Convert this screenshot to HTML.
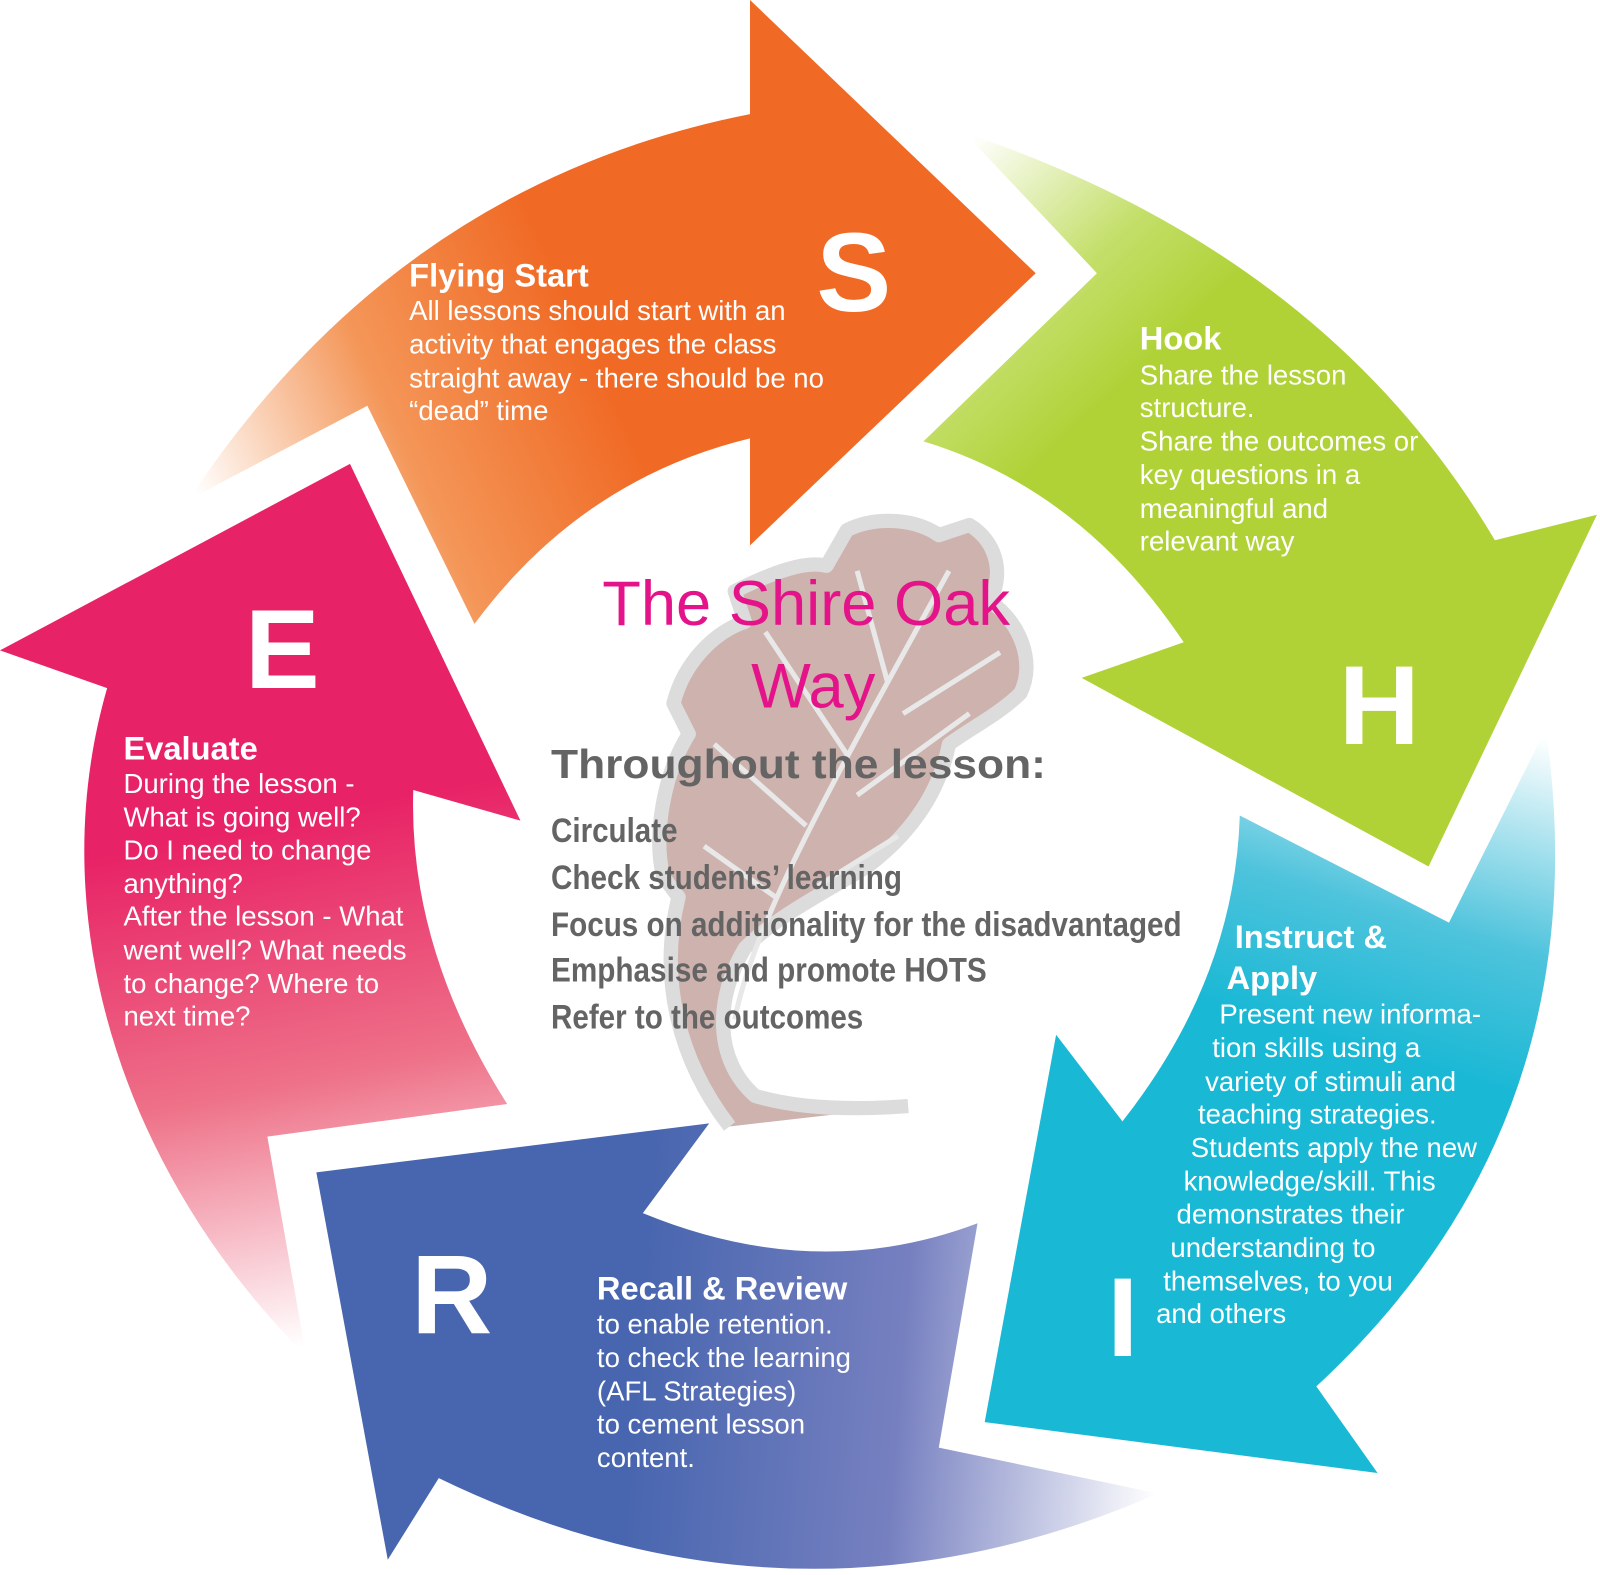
<!DOCTYPE html>
<html><head><meta charset="utf-8"><style>html,body{margin:0;padding:0;background:#fff}svg{display:block}</style></head>
<body>
<svg width="1600" height="1575" viewBox="0 0 1568 1545" preserveAspectRatio="none" xmlns="http://www.w3.org/2000/svg" font-family="Liberation Sans, Arial, sans-serif">
<defs>
<linearGradient id="go" gradientUnits="userSpaceOnUse" x1="185" y1="470" x2="560" y2="300"><stop offset="0" stop-color="#fff"/><stop offset="0.5" stop-color="#f49658"/><stop offset="1" stop-color="#f06a25"/></linearGradient>
<linearGradient id="gg" gradientUnits="userSpaceOnUse" x1="960" y1="130" x2="1150" y2="330"><stop offset="0" stop-color="#fff"/><stop offset="0.6" stop-color="#c4df6a"/><stop offset="1" stop-color="#b0d237"/></linearGradient>
<linearGradient id="gc" gradientUnits="userSpaceOnUse" x1="1500" y1="720" x2="1400" y2="1050"><stop offset="0" stop-color="#fff"/><stop offset="0.6" stop-color="#4ec3dc"/><stop offset="1" stop-color="#19b8d5"/></linearGradient>
<linearGradient id="gb" gradientUnits="userSpaceOnUse" x1="1135" y1="1440" x2="620" y2="1400"><stop offset="0" stop-color="#fff"/><stop offset="0.5" stop-color="#7680c0"/><stop offset="1" stop-color="#4866af"/></linearGradient>
<linearGradient id="gp" gradientUnits="userSpaceOnUse" x1="300" y1="1320" x2="200" y2="820"><stop offset="0" stop-color="#fff"/><stop offset="0.5" stop-color="#ee7188"/><stop offset="1" stop-color="#e82266"/></linearGradient>
</defs>

<g>
<path d="M715,1105 C665,1040 645,960 665,880 L650,860 C640,820 650,760 675,720 L660,690 C670,650 700,620 730,610 L720,580 C760,560 790,550 810,555 L830,520 C860,505 900,510 920,525 L950,515 C975,530 985,560 970,590 C1000,610 1015,650 1000,680 C980,700 950,715 930,730 C920,780 890,820 850,850 C800,880 760,900 730,930 C700,980 700,1040 740,1075 C790,1090 850,1088 890,1085" fill="#cdb2ae" stroke="#dcdcdc" stroke-width="14" stroke-linejoin="round"/>
<g stroke="#e8e8e8" stroke-width="5" fill="none">
<path d="M720,1000 C740,900 820,760 930,560"/>
<path d="M760,880 L690,830"/><path d="M790,810 L700,730"/><path d="M830,740 L750,620"/>
<path d="M870,670 L840,560"/><path d="M800,870 L880,820"/><path d="M840,780 L950,700"/><path d="M885,700 L980,640"/>
</g>
</g>

<path d="M185,490 Q390,180 735,112 L735,0 L1015,268 L735,535 L735,430 Q570,470 465,612 L360,398 Z" fill="url(#go)"/>
<path d="M945,130 Q1300,250 1465,530 L1565,505 L1400,850 L1060,665 L1160,630 Q1060,480 905,433 L1075,268 Z" fill="url(#gg)"/>
<path d="M1515,715 Q1570,1100 1290,1360 L1350,1445 L965,1395 L1035,1015 L1100,1100 Q1210,960 1215,800 L1420,905 Z" fill="url(#gc)"/>
<path d="M1135,1465 Q780,1620 430,1450 L380,1530 L310,1150 L695,1102 L630,1190 Q800,1260 958,1200 L920,1420 Z" fill="url(#gb)"/>
<path d="M300,1330 C120,1150 40,900 105,675 L0,638 L343,455 L510,805 L405,775 Q400,930 497,1083 L262,1115 Z" fill="url(#gp)"/>

<g fill="#fff" font-weight="bold">
<text x="800" y="305" font-size="110">S</text>
<text x="1312" y="730" font-size="110">H</text>
<text x="1085" y="1330" font-size="110">I</text>
<text x="403" y="1308" font-size="110">R</text>
<text x="240" y="675" font-size="110">E</text>
</g>

<g fill="#fff" font-size="27">
<text x="401" y="281" font-weight="bold" font-size="32">Flying Start</text>
<text x="401" y="314">All lessons should start with an</text>
<text x="401" y="347">activity that engages the class</text>
<text x="401" y="380">straight away - there should be no</text>
<text x="401" y="412">“dead” time</text>

<text x="1117" y="343" font-weight="bold" font-size="32">Hook</text>
<text x="1117" y="377">Share the lesson</text>
<text x="1117" y="409">structure.</text>
<text x="1117" y="442">Share the outcomes or</text>
<text x="1117" y="475">key questions in a</text>
<text x="1117" y="508">meaningful and</text>
<text x="1117" y="540">relevant way</text>

<text x="1210" y="930" font-weight="bold" font-size="32">Instruct &amp;</text>
<text x="1202" y="970" font-weight="bold" font-size="32">Apply</text>
<text x="1195" y="1004">Present new informa-</text>
<text x="1188" y="1037">tion skills using a</text>
<text x="1181" y="1070">variety of stimuli and</text>
<text x="1174" y="1102">teaching strategies.</text>
<text x="1167" y="1135">Students apply the new</text>
<text x="1160" y="1168">knowledge/skill. This</text>
<text x="1153" y="1200">demonstrates their</text>
<text x="1147" y="1233">understanding to</text>
<text x="1140" y="1266">themselves, to you</text>
<text x="1133" y="1298">and others</text>

<text x="585" y="1275" font-weight="bold" font-size="32">Recall &amp; Review</text>
<text x="585" y="1308">to enable retention.</text>
<text x="585" y="1341">to check the learning</text>
<text x="585" y="1374">(AFL Strategies)</text>
<text x="585" y="1406">to cement lesson</text>
<text x="585" y="1439">content.</text>

<text x="121" y="745" font-weight="bold" font-size="32">Evaluate</text>
<text x="121" y="778">During the lesson -</text>
<text x="121" y="811">What is going well?</text>
<text x="121" y="843">Do I need to change</text>
<text x="121" y="876">anything?</text>
<text x="121" y="908">After the lesson - What</text>
<text x="121" y="941">went well? What needs</text>
<text x="121" y="974">to change? Where to</text>
<text x="121" y="1006">next time?</text>
</g>

<g fill="#e4138a" font-size="62" text-anchor="middle">
<text x="790" y="613">The Shire Oak</text>
<text x="797" y="694">Way</text>
</g>
<text x="540" y="763" fill="#646464" font-weight="bold" font-size="40" textLength="485" lengthAdjust="spacingAndGlyphs">Throughout the lesson:</text>
<g fill="#646464" font-weight="bold" font-size="34">
<text x="540" y="826" textLength="124" lengthAdjust="spacingAndGlyphs">Circulate</text>
<text x="540" y="872" textLength="344" lengthAdjust="spacingAndGlyphs">Check students’ learning</text>
<text x="540" y="918" textLength="618" lengthAdjust="spacingAndGlyphs">Focus on additionality for the disadvantaged</text>
<text x="540" y="963" textLength="427" lengthAdjust="spacingAndGlyphs">Emphasise and promote HOTS</text>
<text x="540" y="1009" textLength="306" lengthAdjust="spacingAndGlyphs">Refer to the outcomes</text>
</g>
</svg>
</body></html>
